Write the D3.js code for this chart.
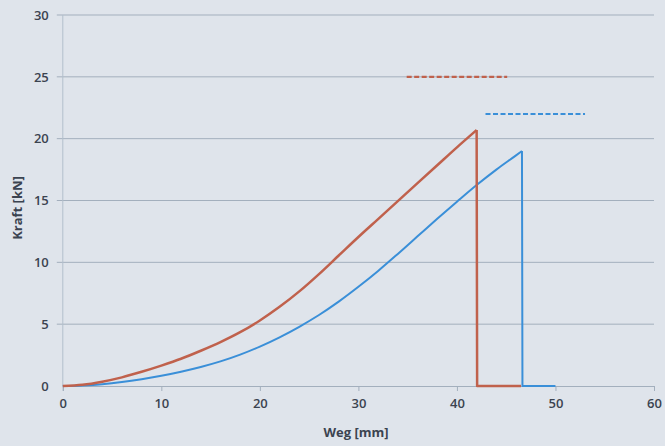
<!DOCTYPE html>
<html><head><meta charset="utf-8">
<script src="https://cdn.jsdelivr.net/npm/d3@7/dist/d3.min.js"></script>
<style>body{margin:0;background:#dfe4eb;}svg{display:block;}</style>
</head><body>
<svg id="c" width="665" height="446"></svg>
<script>
const redX = [0,2,4,6,8,10,12,14,16,18,20,22,24,26,28,30,32,34,36,38,40,42,42.05,46.5];
const redY = [0,0.1,0.35,0.7,1.15,1.65,2.2,2.85,3.55,4.35,5.3,6.4,7.65,9.05,10.55,12.05,13.5,14.95,16.4,17.85,19.3,20.7,0,0];
const blueX = [0,2,4,6,8,10,12,14,16,18,20,22,24,26,28,30,32,34,36,38,40,42,44,46,46.6,46.65,50];
const blueY = [0,0.05,0.15,0.32,0.55,0.83,1.16,1.54,1.99,2.54,3.19,3.94,4.79,5.74,6.82,8.02,9.3,10.68,12.1,13.52,14.9,16.25,17.5,18.65,19.0,0,0];
const redLimitX = [34.9,45.1], redLimitY = 25;
const blueLimitX = [42.9,53.0], blueLimitY = 22;
const xTicks = [0,10,20,30,40,50,60];
const yTicks = [0,5,10,15,20,25,30];
const xTitle = "Weg [mm]", yTitle = "Kraft [kN]";

const svg = d3.select("#c");
const x = d3.scaleLinear().domain([0,60]).range([62.8,654]);
const y = d3.scaleLinear().domain([0,30]).range([386,15]);
const font = "'Open Sans', 'Liberation Sans', sans-serif";
const txt = "#3b4350";

// grid
svg.append("g").selectAll("line").data(yTicks.filter(d=>d>0)).join("line")
  .attr("x1", x(0)-6).attr("x2", x(60)).attr("y1", d=>y(d)).attr("y2", d=>y(d))
  .attr("stroke", "#a3afbd").attr("stroke-width", 1);
// y axis line
svg.append("line").attr("x1", x(0)).attr("x2", x(0)).attr("y1", y(30)).attr("y2", y(0))
  .attr("stroke", "#b3bfcc").attr("stroke-width", 1);

// x axis
const xa = svg.append("g").attr("transform", `translate(0,${y(0)})`)
  .call(d3.axisBottom(x).tickValues(xTicks).tickSize(5).tickPadding(8));
xa.select(".domain").attr("stroke", "#a3afbd");
xa.selectAll(".tick line").attr("stroke", "#a3afbd");
xa.selectAll("text").attr("fill", txt).attr("font-family", font).attr("font-size", 13).attr("font-weight", 600);

// y axis labels
const ya = svg.append("g").attr("transform", `translate(${x(0)},0)`)
  .call(d3.axisLeft(y).tickValues(yTicks).tickSize(0).tickPadding(14));
ya.select(".domain").remove();
ya.selectAll("text").attr("fill", txt).attr("font-family", font).attr("font-size", 13).attr("font-weight", 600);

// titles
svg.append("text").attr("x", 356).attr("y", 437).attr("text-anchor", "middle")
  .attr("fill", txt).attr("font-family", font).attr("font-size", 13).attr("font-weight", 700).text(xTitle);
svg.append("text").attr("transform", "translate(22,208) rotate(-90)").attr("text-anchor", "middle")
  .attr("fill", txt).attr("font-family", font).attr("font-size", 13).attr("font-weight", 700).text(yTitle);

const line = d3.line().x(d=>x(d[0])).y(d=>y(d[1])).curve(d3.curveMonotoneX);
const lineL = d3.line().x(d=>x(d[0])).y(d=>y(d[1]));

function series(xs, ys){ return xs.map((v,i)=>[v, ys[i]]); }
const red = series(redX, redY), blue = series(blueX, blueY);

function draw(data, peakIdx, color, w){
  svg.append("path").attr("d", line(data.slice(0, peakIdx+1)))
    .attr("fill","none").attr("stroke", color).attr("stroke-width", w).attr("stroke-linejoin","round");
  svg.append("path").attr("d", lineL(data.slice(peakIdx)))
    .attr("fill","none").attr("stroke", color).attr("stroke-width", w).attr("stroke-linejoin","round");
}
draw(blue, blueY.indexOf(19.0), "#3a8fd8", 2);
draw(red, redY.indexOf(20.7), "#c0614c", 2.5);

// limit dashed lines
svg.append("line").attr("x1", x(redLimitX[0])).attr("x2", x(redLimitX[1]))
  .attr("y1", y(redLimitY)).attr("y2", y(redLimitY))
  .attr("stroke", "#c0614c").attr("stroke-width", 2.2).attr("stroke-dasharray", "5,2.5");
svg.append("line").attr("x1", x(blueLimitX[0])).attr("x2", x(blueLimitX[1]))
  .attr("y1", y(blueLimitY)).attr("y2", y(blueLimitY))
  .attr("stroke", "#3a8fd8").attr("stroke-width", 2).attr("stroke-dasharray", "5,2.5");
</script>
</body></html>
